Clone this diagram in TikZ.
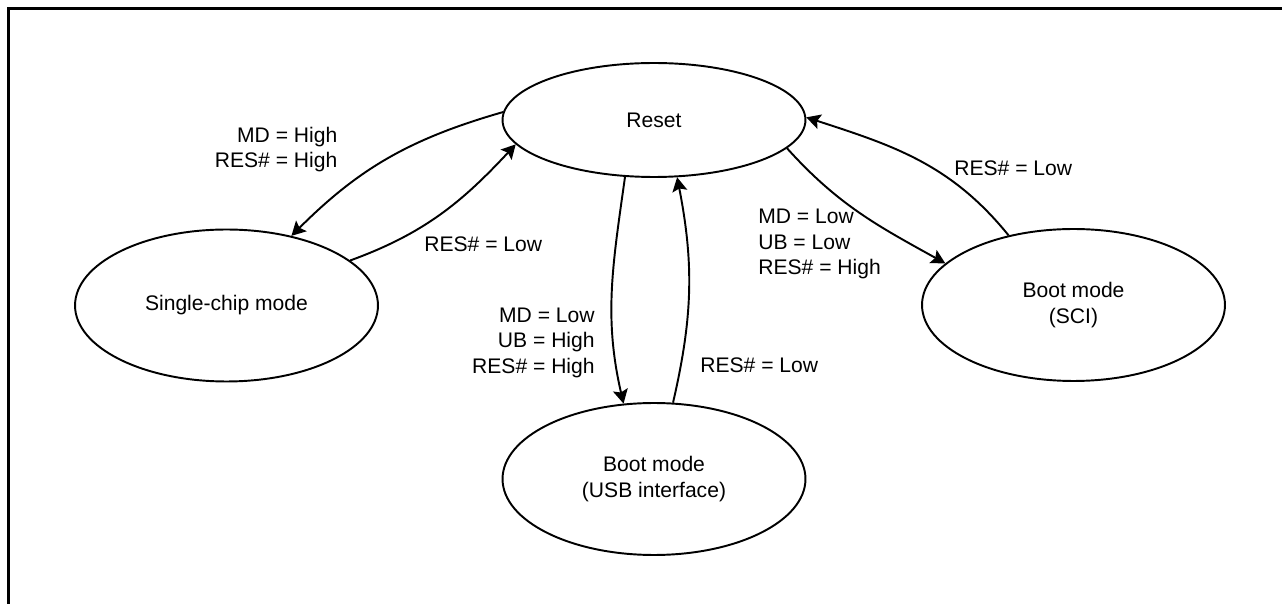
\documentclass[tikz,border=0pt]{standalone}
\usepackage{fontspec}
\setmainfont{Liberation Sans}
\usetikzlibrary{shapes.geometric,arrows.meta}

\begin{document}
\begin{tikzpicture}[x=0.02cm,y=0.02cm,
    font=\fontsize{12}{14.5}\selectfont,
    state/.style={draw,ellipse,line width=1.1pt,minimum width=6.06cm,minimum height=3.04cm,inner sep=0pt,align=center},
    trans/.style={line width=1.1pt,-{Stealth[length=8pt,width=8.5pt,inset=1.5pt]}},
    cond/.style={inner sep=0pt}]
    \useasboundingbox (0,0) rectangle (1282,-604);

    % Frame
    \draw[line width=1.7pt] (8.5,-604) -- (8.5,-8.5) -- (1282,-8.5);

    % States
    \node[state,minimum height=2.28cm] (reset) at (654,-120) {Reset};
    \node[state] (single) at (226.5,-305.5) {Single-chip mode};
    \node[state] (usb) at (654,-479) {Boot mode\\(USB interface)};
    \node[state] (sci) at (1073.5,-305) {Boot mode\\(SCI)};

    % Reset <-> Single-chip mode
    \draw[trans] (reset.177) to[out=196,in=45] (single.47);
    \draw[trans] (single.20) to[out=20,in=227] (reset.190);
    \node[cond,anchor=east,align=right] (hightxt) at (337.7,-149.5) {MD = High\\RES\# = High};
    \node[cond,anchor=west] (singletxt) at (424,-244) {RES\# = Low};

    % Reset <-> Boot mode (USB interface)
    \draw[trans] (reset.243) to[out=262,in=103] (usb.112);
    \draw[trans] (usb.76) to[out=77,in=281] (reset.292);
    \node[cond,anchor=east,align=right] (usbtxt) at (595,-342.5) {MD = Low\\UB = High\\RES\# = High};
    \node[cond,anchor=west] (usbbacktxt) at (700,-365) {RES\# = Low};

    % Reset <-> Boot mode (SCI)
    \draw[trans] (reset.348) to[out=312,in=151] (sci.162);
    \draw[trans] (sci.133) to[out=129,in=342] (reset.1);
    \node[cond,anchor=west,align=left] (scitxt) at (758,-244) {MD = Low\\UB = Low\\RES\# = High};
    \node[cond,anchor=west] (scibacktxt) at (954,-168) {RES\# = Low};
\end{tikzpicture}
\end{document}
